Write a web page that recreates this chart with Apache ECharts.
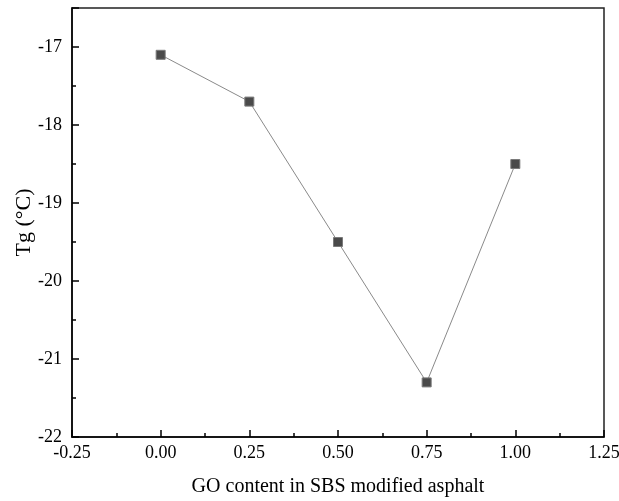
<!DOCTYPE html>
<html>
<head>
    <meta charset="utf-8" />
    <title>Tg vs GO content</title>
    <script src="https://cdn.jsdelivr.net/npm/echarts@6/dist/echarts.min.js"></script>
    <style>
        html, body { margin: 0; padding: 0; background: #fff; }
        #container { width: 619px; height: 501px; }
    </style>
</head>
<body>
    <div id="container"></div>
<script>
    // GO content (x) and glass transition temperature (y)
    var goContent = [0.00, 0.25, 0.50, 0.75, 1.00];
    var tgValues = [-17.1, -17.7, -19.5, -21.3, -18.5];

    var xMin = -0.25, xMax = 1.25, xStep = 0.25;
    var yMin = -22, yMax = -16.5, yStep = 1;

    var points = [];
    for (var i = 0; i < goContent.length; i++) {
        points.push([goContent[i], tgValues[i]]);
    }

    var fontName = "'Liberation Serif', 'DejaVu Serif', serif";
    var myChart = echarts.init(document.getElementById("container"), null, { renderer: 'canvas' });

    myChart.setOption({
        animation: false,
        backgroundColor: '#fff',
        grid: {
            left: 72, right: 15, top: 8, bottom: 64,
            outerBoundsMode: 'none',
            containLabel: false,
            show: true, borderColor: '#222', borderWidth: 1.5,
            backgroundColor: 'transparent'
        },
        xAxis: {
            type: 'value',
            min: xMin, max: xMax, interval: xStep,
            name: 'GO content in SBS modified asphalt',
            nameLocation: 'middle',
            nameGap: 40,
            nameMoveOverlap: false,
            nameTextStyle: { fontFamily: fontName, fontSize: 20, color: '#000' },
            axisLine: { onZero: false, lineStyle: { color: '#000', width: 1.5 } },
            axisTick: { inside: true, length: 7, lineStyle: { color: '#000', width: 1.5 } },
            minorTick: { show: true, splitNumber: 2, length: 4, lineStyle: { color: '#000', width: 1.5 } },
            splitLine: { show: false },
            axisLabel: {
                margin: 7,
                fontFamily: fontName, fontSize: 18, color: '#000',
                formatter: function (v) { return v.toFixed(2); }
            }
        },
        yAxis: {
            type: 'value',
            min: yMin, max: yMax, interval: yStep,
            name: 'Tg (°C)',
            nameLocation: 'middle',
            nameGap: 37,
            nameMoveOverlap: false,
            nameTextStyle: { fontFamily: fontName, fontSize: 22, color: '#000' },
            axisLine: { onZero: false, lineStyle: { color: '#000', width: 1.5 } },
            axisTick: { inside: true, length: 7, lineStyle: { color: '#000', width: 1.5 } },
            minorTick: { show: true, splitNumber: 2, length: 4, lineStyle: { color: '#000', width: 1.5 } },
            splitLine: { show: false },
            axisLabel: {
                margin: 10, showMaxLabel: false,
                fontFamily: fontName, fontSize: 18, color: '#000'
            }
        },
        series: [{
            type: 'line',
            data: points,
            symbol: 'rect',
            symbolSize: 9,
            lineStyle: { color: '#8a8a8a', width: 1 },
            itemStyle: { color: '#4a4a4a', borderColor: '#7a7a7a', borderWidth: 1 }
        }]
    });
</script>
</body>
</html>
